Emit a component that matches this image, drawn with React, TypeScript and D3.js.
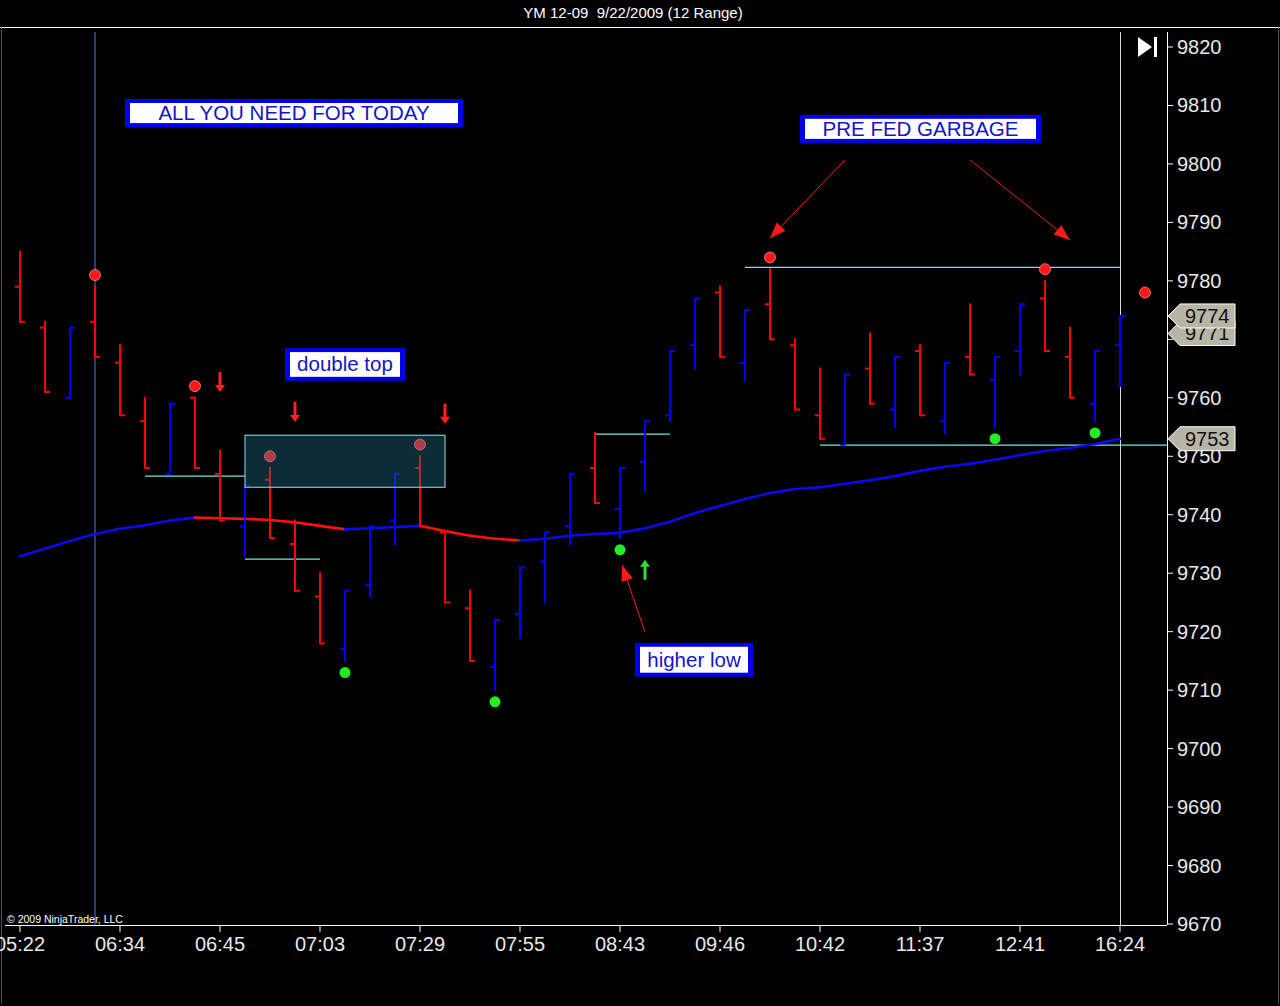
import * as d3 from "d3";

// OHLC of the 12-range bars
const opens = [9779, 9772, 9760, 9773, 9766, 9756, 9747, 9760, 9747, 9738, 9746, 9735, 9726, 9717, 9728, 9739, 9748, 9737, 9724, 9714, 9723, 9732, 9738, 9748, 9741, 9749, 9757, 9769, 9778, 9766, 9776, 9769, 9757, 9752, 9765, 9758, 9768, 9756, 9767, 9763, 9768, 9777, 9767, 9759, 9769];
const highs = [9785, 9773, 9772, 9779, 9769, 9760, 9759, 9760, 9751, 9745, 9748, 9739, 9730, 9727, 9738, 9747, 9750, 9737, 9727, 9722, 9731, 9737, 9747, 9754, 9748, 9756, 9768, 9777, 9779, 9775, 9782, 9770, 9765, 9764, 9771, 9767, 9769, 9766, 9776, 9767, 9776, 9780, 9772, 9768, 9774];
const lows = [9773, 9761, 9760, 9767, 9757, 9748, 9747, 9748, 9739, 9733, 9736, 9727, 9718, 9715, 9726, 9735, 9738, 9725, 9715, 9710, 9719, 9725, 9735, 9742, 9736, 9744, 9756, 9765, 9767, 9763, 9770, 9758, 9753, 9752, 9759, 9755, 9757, 9754, 9764, 9755, 9764, 9768, 9760, 9756, 9762];
const closes = [9773, 9761, 9772, 9767, 9757, 9748, 9759, 9748, 9739, 9745, 9736, 9727, 9718, 9727, 9738, 9747, 9738, 9725, 9715, 9722, 9731, 9737, 9747, 9742, 9748, 9756, 9768, 9777, 9767, 9775, 9770, 9758, 9753, 9764, 9759, 9767, 9757, 9766, 9764, 9767, 9776, 9768, 9760, 9768, 9774];

// moving average
const maValues = [9732.9, 9734.2, 9735.5, 9736.7, 9737.6, 9738.2, 9739.0, 9739.5, 9739.4, 9739.3, 9739.1, 9738.7, 9738.1, 9737.5, 9737.7, 9737.9, 9738.1, 9737.2, 9736.4, 9735.9, 9735.6, 9735.9, 9736.4, 9736.7, 9736.9, 9737.7, 9738.8, 9740.3, 9741.5, 9742.7, 9743.7, 9744.4, 9744.7, 9745.3, 9745.9, 9746.6, 9747.5, 9748.2, 9748.7, 9749.4, 9750.2, 9750.9, 9751.4, 9752.1, 9753.0];

const timeLabels = ["05:22", "06:34", "06:45", "07:03", "07:29", "07:55", "08:43", "09:46", "10:42", "11:37", "12:41", "16:24"];
const timeLabelIdx = [0, 4, 8, 12, 16, 20, 24, 28, 32, 36, 40, 44];
const priceTicks = d3.range(9670, 9821, 10);

const swingHighIdx = [3, 7, 10, 16, 30, 41, 45];
const swingHighVal = [9781, 9762, 9750, 9752, 9784, 9782, 9778];
const swingLowIdx = [13, 19, 24, 39, 43];
const swingLowVal = [9713, 9708, 9734, 9753, 9754];

const levelFrom = [5, 9, 23, 29, 32];
const levelTo = [9, 12, 26, 44, 45.9];
const levelVal = [9746.6, 9732.4, 9753.8, 9782.3, 9751.9];

const downArrowIdx = [8, 11, 17];
const downArrowTop = [9764.4, 9759.3, 9759];
const upArrowIdx = [25];
const upArrowTip = [9732.3];

const notes = [
  {text: "ALL YOU NEED FOR TODAY", i0: 4.2, i1: 17.72, p0: 9811.1, p1: 9806.3},
  {text: "PRE FED GARBAGE", i0: 31.2, i1: 40.84, p0: 9808.4, p1: 9803.6},
  {text: "double top", i0: 10.6, i1: 15.4, p0: 9768.5, p1: 9762.9},
  {text: "higher low", i0: 24.6, i1: 29.32, p0: 9718.1, p1: 9712.3},
];
const pointers = [
  {i0: 33, p0: 9800.7, i1: 30, p1: 9787.3},
  {i0: 38, p0: 9800.7, i1: 42, p1: 9787.0},
  {i0: 25, p0: 9719.9, i1: 24.08, p1: 9731.4},
];

const flagValues = [9753, 9771, 9774];
const boxI = [9, 17];
const boxP = [9744.7, 9753.6];

const W = 1280, H = 1006;
const font = "'Liberation Sans', Arial, sans-serif";

export default function App() {
  const x = d3.scaleLinear().domain([0, 44]).range([20, 1120]);
  const y = d3.scaleLinear().domain([9670, 9820]).range([924, 47]);
  const axisX = 1167, axisY = 925;

  const maLine = d3.line<number>().x((_, i) => x(i)).y(d => y(d));

  const arrowHead = (x1: number, y1: number, x2: number, y2: number, len: number, half: number) => {
    const a = Math.atan2(y2 - y1, x2 - x1);
    const bx = x2 - len * Math.cos(a), by = y2 - len * Math.sin(a);
    const px = -Math.sin(a) * half, py = Math.cos(a) * half;
    return `${x2},${y2} ${bx + px},${by + py} ${bx - px},${by - py}`;
  };

  return (
    <svg width={W} height={H} style={{position: "absolute", left: 0, top: 0, display: "block"}}>
      <rect width={W} height={H} fill="#000" />
      <text x={633} y={18} fill="#fff" fontFamily={font} fontSize={15} textAnchor="middle" style={{whiteSpace: "pre"}}>YM 12-09  9/22/2009 (12 Range)</text>
      <line x1={0} x2={W} y1={27.5} y2={27.5} stroke="#fff" />
      <line x1={1.5} x2={1.5} y1={27} y2={1004} stroke="#555" />
      <line x1={1278.5} x2={1278.5} y1={27} y2={1004} stroke="#555" />

      {/* vertical markers */}
      <line x1={x(3)} x2={x(3)} y1={32} y2={axisY} stroke="#4f7bff" strokeWidth={1} />
      <line x1={x(44) + 0.5} x2={x(44) + 0.5} y1={32} y2={axisY} stroke="#d8d8d8" strokeWidth={1} />

      {/* axes */}
      <line x1={axisX + 0.5} x2={axisX + 0.5} y1={32} y2={axisY} stroke="#fff" />
      <line x1={5} x2={axisX} y1={axisY + 0.5} y2={axisY + 0.5} stroke="#fff" />
      {priceTicks.map(p => (
        <g key={p}>
          <line x1={axisX} x2={axisX + 6} y1={y(p)} y2={y(p)} stroke="#fff" />
          <text x={axisX + 10} y={y(p) + 7} fill="#e8e8e8" fontFamily={font} fontSize={20}>{p}</text>
        </g>
      ))}
      {timeLabels.map((t, k) => (
        <g key={t}>
          <line x1={x(timeLabelIdx[k])} x2={x(timeLabelIdx[k])} y1={axisY} y2={axisY + 7} stroke="#fff" />
          <text x={x(timeLabelIdx[k])} y={axisY + 26} fill="#e8e8e8" fontFamily={font} fontSize={20} textAnchor="middle">{t}</text>
        </g>
      ))}
      <text x={7} y={923} fill="#fff" fontFamily={font} fontSize={10.5}>© 2009 NinjaTrader, LLC</text>

      {/* end-of-chart icon */}
      <polygon points="1138,37 1152,47 1138,57" fill="#fff" />
      <rect x={1154} y={37} width={3} height={20} fill="#fff" />

      {/* support / resistance lines */}
      {levelVal.map((v, k) => (
        <line key={k} x1={x(levelFrom[k])} x2={x(levelTo[k])} y1={y(v)} y2={y(v)} stroke="#6ee6e6" strokeWidth={1.2} />
      ))}

      {/* moving average */}
      {maValues.slice(1).map((v, i) => (
        <path key={i} d={maLine([maValues[i], v]) ?? ""} transform={`translate(${x(i) - x(0)},0)`}
          fill="none" stroke={v < maValues[i] ? "#ff1010" : "#0a0aee"} strokeWidth={2.6} strokeLinecap="round" />
      ))}

      {/* bars */}
      {opens.map((o, i) => {
        const col = closes[i] < o ? "#ff0000" : "#0000ff";
        const cx = x(i);
        return (
          <g key={i} stroke={col} strokeWidth={2}>
            <line x1={cx} x2={cx} y1={y(highs[i]) - 1} y2={y(lows[i]) + 1} />
            <line x1={cx - 5} x2={cx} y1={y(o)} y2={y(o)} />
            <line x1={cx} x2={cx + 5} y1={y(closes[i])} y2={y(closes[i])} />
          </g>
        );
      })}

      {/* swing dots */}
      {swingHighIdx.map((i, k) => (
        <circle key={"h" + k} cx={x(i)} cy={y(swingHighVal[k])} r={5.5} fill="#ff1a1a" stroke="#ff8080" strokeWidth={0.8} />
      ))}
      {swingLowIdx.map((i, k) => (
        <circle key={"l" + k} cx={x(i)} cy={y(swingLowVal[k])} r={5.5} fill="#22ee22" />
      ))}

      {/* double top box */}
      <rect x={x(boxI[0])} y={y(boxP[1])} width={x(boxI[1]) - x(boxI[0])} height={y(boxP[0]) - y(boxP[1])}
        fill="#1f7a99" fillOpacity={0.35} stroke="#8fe0ee" strokeWidth={1} />

      {/* signal arrows */}
      {downArrowIdx.map((i, k) => {
        const cx = x(i), top = y(downArrowTop[k]);
        return (
          <g key={"d" + k} fill="#ff2020">
            <rect x={cx - 1.5} y={top} width={3} height={14} />
            <polygon points={`${cx - 5},${top + 13} ${cx + 5},${top + 13} ${cx},${top + 20}`} />
          </g>
        );
      })}
      {upArrowIdx.map((i, k) => {
        const cx = x(i), tip = y(upArrowTip[k]);
        return (
          <g key={"u" + k} fill="#33dd33">
            <polygon points={`${cx - 5},${tip + 7} ${cx + 5},${tip + 7} ${cx},${tip}`} />
            <rect x={cx - 1.5} y={tip + 6} width={3} height={14} />
          </g>
        );
      })}

      {/* pointer arrows */}
      {pointers.map((p, k) => {
        const x1 = x(p.i0), y1 = y(p.p0), x2 = x(p.i1), y2 = y(p.p1);
        return (
          <g key={"p" + k}>
            <line x1={x1} y1={y1} x2={x2} y2={y2} stroke="#ff1a1a" strokeWidth={1} />
            <polygon points={arrowHead(x1, y1, x2, y2, 16, 6)} fill="#ff1a1a" />
          </g>
        );
      })}

      {/* notes */}
      {notes.map((n, k) => {
        const x0 = x(n.i0), x1 = x(n.i1), y0 = y(n.p0), y1 = y(n.p1);
        return (
          <g key={"n" + k}>
            <rect x={x0} y={y0} width={x1 - x0} height={y1 - y0} fill="#0000ee" />
            <rect x={x0 + 5} y={y0 + 4} width={x1 - x0 - 10} height={y1 - y0 - 8} fill="#fff" />
            <text x={(x0 + x1) / 2} y={(y0 + y1) / 2 + 7} fill="#1414c8" fontFamily={font} fontSize={20.5} textAnchor="middle">{n.text}</text>
          </g>
        );
      })}

      {/* price flags */}
      {flagValues.map(v => {
        const cy = y(v);
        return (
          <g key={v}>
            <polygon points={`${axisX + 1},${cy} ${axisX + 13},${cy - 12} ${1235},${cy - 12} ${1235},${cy + 12} ${axisX + 13},${cy + 12}`}
              fill="#b8b4a6" stroke="#fff" strokeWidth={1} />
            <text x={1185} y={cy + 7} fill="#111" fontFamily={font} fontSize={20}>{v}</text>
          </g>
        );
      })}
    </svg>
  );
}
